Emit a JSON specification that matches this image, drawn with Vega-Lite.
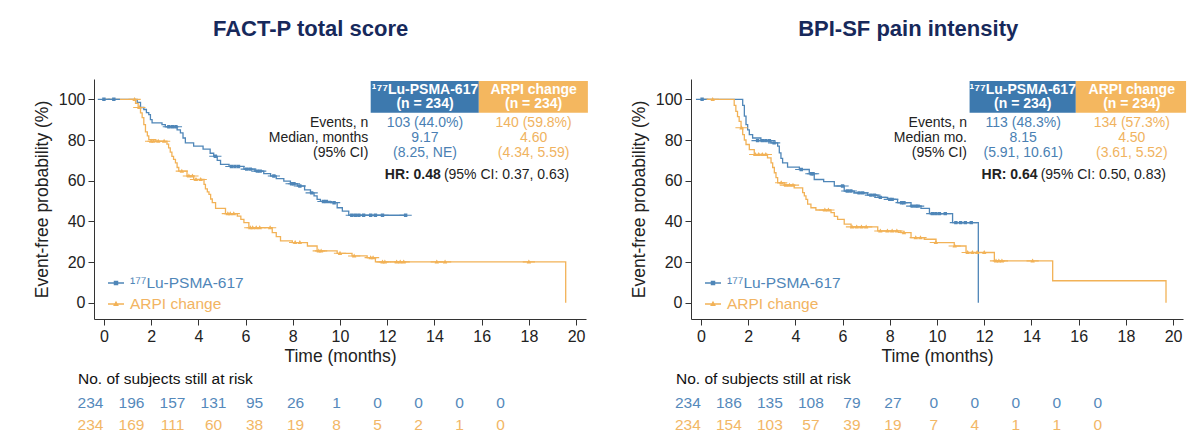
{
"$schema": "https://vega.github.io/schema/vega-lite/v6.json",
"background": "white",
"padding": {"left": 33, "top": 18, "right": 0, "bottom": 0},
"config": {
  "font": "Liberation Sans",
  "view": {"stroke": null},
  "axis": {"grid": false, "domainColor": "#333", "tickColor": "#333", "labelColor": "#222", "titleColor": "#222", "labelFontSize": 16, "titleFontSize": 17.5, "titleFontWeight": "normal", "tickSize": 6}
},
"datasets": {
"km": [
{"panel":"fact","group":"lu","t":0,"s":100},{"panel":"fact","group":"lu","t":1.41,"s":98.5},{"panel":"fact","group":"lu","t":1.55,"s":96},{"panel":"fact","group":"lu","t":1.69,"s":95},{"panel":"fact","group":"lu","t":1.8,"s":93.5},{"panel":"fact","group":"lu","t":1.9,"s":92.5},{"panel":"fact","group":"lu","t":1.97,"s":90},{"panel":"fact","group":"lu","t":2.04,"s":88.4},{"panel":"fact","group":"lu","t":2.46,"s":87.6},{"panel":"fact","group":"lu","t":2.6,"s":86.5},{"panel":"fact","group":"lu","t":3.1,"s":85},{"panel":"fact","group":"lu","t":3.24,"s":83.5},{"panel":"fact","group":"lu","t":3.35,"s":81},{"panel":"fact","group":"lu","t":3.45,"s":78.6},{"panel":"fact","group":"lu","t":3.8,"s":77},{"panel":"fact","group":"lu","t":4.2,"s":75.5},{"panel":"fact","group":"lu","t":4.5,"s":73.5},{"panel":"fact","group":"lu","t":4.65,"s":72},{"panel":"fact","group":"lu","t":4.8,"s":70},{"panel":"fact","group":"lu","t":4.94,"s":68},{"panel":"fact","group":"lu","t":5.3,"s":67},{"panel":"fact","group":"lu","t":5.93,"s":65.7},{"panel":"fact","group":"lu","t":6.4,"s":64.7},{"panel":"fact","group":"lu","t":6.77,"s":63.5},{"panel":"fact","group":"lu","t":7.06,"s":62.3},{"panel":"fact","group":"lu","t":7.3,"s":61},{"panel":"fact","group":"lu","t":7.62,"s":59.8},{"panel":"fact","group":"lu","t":7.9,"s":58.5},{"panel":"fact","group":"lu","t":8.19,"s":57.4},{"panel":"fact","group":"lu","t":8.5,"s":55.5},{"panel":"fact","group":"lu","t":8.75,"s":54},{"panel":"fact","group":"lu","t":8.9,"s":52.5},{"panel":"fact","group":"lu","t":9.03,"s":50.8},{"panel":"fact","group":"lu","t":9.17,"s":49.8},{"panel":"fact","group":"lu","t":9.6,"s":49.2},{"panel":"fact","group":"lu","t":9.88,"s":46.7},{"panel":"fact","group":"lu","t":10.1,"s":45},{"panel":"fact","group":"lu","t":10.37,"s":43},{"panel":"fact","group":"lu","t":12.78,"s":43},
{"panel":"fact","group":"arpi","t":0,"s":100},{"panel":"fact","group":"arpi","t":1.34,"s":98},{"panel":"fact","group":"arpi","t":1.45,"s":96},{"panel":"fact","group":"arpi","t":1.55,"s":93.3},{"panel":"fact","group":"arpi","t":1.62,"s":91},{"panel":"fact","group":"arpi","t":1.69,"s":87.6},{"panel":"fact","group":"arpi","t":1.76,"s":84},{"panel":"fact","group":"arpi","t":1.84,"s":82},{"panel":"fact","group":"arpi","t":1.9,"s":80.2},{"panel":"fact","group":"arpi","t":2.2,"s":79.4},{"panel":"fact","group":"arpi","t":2.67,"s":78},{"panel":"fact","group":"arpi","t":2.74,"s":76.1},{"panel":"fact","group":"arpi","t":2.81,"s":74},{"panel":"fact","group":"arpi","t":2.88,"s":72},{"panel":"fact","group":"arpi","t":2.95,"s":70.5},{"panel":"fact","group":"arpi","t":3.03,"s":68.8},{"panel":"fact","group":"arpi","t":3.1,"s":66.5},{"panel":"fact","group":"arpi","t":3.17,"s":64.7},{"panel":"fact","group":"arpi","t":3.52,"s":62.3},{"panel":"fact","group":"arpi","t":3.8,"s":60.6},{"panel":"fact","group":"arpi","t":4.24,"s":58.2},{"panel":"fact","group":"arpi","t":4.3,"s":56},{"panel":"fact","group":"arpi","t":4.38,"s":54.5},{"panel":"fact","group":"arpi","t":4.45,"s":53.3},{"panel":"fact","group":"arpi","t":4.52,"s":51},{"panel":"fact","group":"arpi","t":4.59,"s":49.2},{"panel":"fact","group":"arpi","t":4.73,"s":46.4},{"panel":"fact","group":"arpi","t":5.15,"s":43.8},{"panel":"fact","group":"arpi","t":5.65,"s":42.6},{"panel":"fact","group":"arpi","t":5.8,"s":41},{"panel":"fact","group":"arpi","t":5.93,"s":39.4},{"panel":"fact","group":"arpi","t":6.14,"s":36.9},{"panel":"fact","group":"arpi","t":7.13,"s":34.5},{"panel":"fact","group":"arpi","t":7.3,"s":32.5},{"panel":"fact","group":"arpi","t":7.48,"s":30.4},{"panel":"fact","group":"arpi","t":7.98,"s":29.6},{"panel":"fact","group":"arpi","t":8.62,"s":27.9},{"panel":"fact","group":"arpi","t":9.03,"s":25.5},{"panel":"fact","group":"arpi","t":9.88,"s":24.3},{"panel":"fact","group":"arpi","t":10.51,"s":23},{"panel":"fact","group":"arpi","t":11.15,"s":22.2},{"panel":"fact","group":"arpi","t":11.5,"s":20.1},{"panel":"fact","group":"arpi","t":19.56,"s":0},
{"panel":"bpi","group":"lu","t":0,"s":100},{"panel":"bpi","group":"lu","t":1.77,"s":97},{"panel":"bpi","group":"lu","t":1.84,"s":91.7},{"panel":"bpi","group":"lu","t":1.91,"s":87.6},{"panel":"bpi","group":"lu","t":1.98,"s":85},{"panel":"bpi","group":"lu","t":2.05,"s":82.7},{"panel":"bpi","group":"lu","t":2.19,"s":81},{"panel":"bpi","group":"lu","t":2.54,"s":79.7},{"panel":"bpi","group":"lu","t":2.97,"s":78.6},{"panel":"bpi","group":"lu","t":3.25,"s":77},{"panel":"bpi","group":"lu","t":3.32,"s":73.7},{"panel":"bpi","group":"lu","t":3.39,"s":71},{"panel":"bpi","group":"lu","t":3.46,"s":68.8},{"panel":"bpi","group":"lu","t":3.67,"s":66.7},{"panel":"bpi","group":"lu","t":4.17,"s":65.5},{"panel":"bpi","group":"lu","t":4.59,"s":63.4},{"panel":"bpi","group":"lu","t":4.8,"s":60.6},{"panel":"bpi","group":"lu","t":5.2,"s":59.5},{"panel":"bpi","group":"lu","t":5.65,"s":57.4},{"panel":"bpi","group":"lu","t":6.07,"s":54.9},{"panel":"bpi","group":"lu","t":6.5,"s":54},{"panel":"bpi","group":"lu","t":7.06,"s":52.9},{"panel":"bpi","group":"lu","t":7.5,"s":51.8},{"panel":"bpi","group":"lu","t":7.91,"s":50.8},{"panel":"bpi","group":"lu","t":8.33,"s":49.2},{"panel":"bpi","group":"lu","t":8.9,"s":47.5},{"panel":"bpi","group":"lu","t":9.32,"s":46.4},{"panel":"bpi","group":"lu","t":9.68,"s":43.8},{"panel":"bpi","group":"lu","t":10.66,"s":39.4},{"panel":"bpi","group":"lu","t":11.75,"s":0},
{"panel":"bpi","group":"arpi","t":0,"s":100},{"panel":"bpi","group":"arpi","t":1.41,"s":97},{"panel":"bpi","group":"arpi","t":1.48,"s":94.1},{"panel":"bpi","group":"arpi","t":1.55,"s":91.5},{"panel":"bpi","group":"arpi","t":1.62,"s":89.2},{"panel":"bpi","group":"arpi","t":1.7,"s":86},{"panel":"bpi","group":"arpi","t":1.77,"s":82.7},{"panel":"bpi","group":"arpi","t":1.84,"s":80},{"panel":"bpi","group":"arpi","t":1.91,"s":77.8},{"panel":"bpi","group":"arpi","t":2.05,"s":75.3},{"panel":"bpi","group":"arpi","t":2.26,"s":72.9},{"panel":"bpi","group":"arpi","t":2.82,"s":71.2},{"panel":"bpi","group":"arpi","t":2.97,"s":68.8},{"panel":"bpi","group":"arpi","t":3.04,"s":66.5},{"panel":"bpi","group":"arpi","t":3.11,"s":63.9},{"panel":"bpi","group":"arpi","t":3.18,"s":61.5},{"panel":"bpi","group":"arpi","t":3.25,"s":59},{"panel":"bpi","group":"arpi","t":3.53,"s":57.8},{"panel":"bpi","group":"arpi","t":3.95,"s":56.5},{"panel":"bpi","group":"arpi","t":4.31,"s":54.1},{"panel":"bpi","group":"arpi","t":4.38,"s":52.5},{"panel":"bpi","group":"arpi","t":4.45,"s":50.8},{"panel":"bpi","group":"arpi","t":4.52,"s":48.5},{"panel":"bpi","group":"arpi","t":4.66,"s":46.7},{"panel":"bpi","group":"arpi","t":4.87,"s":45.6},{"panel":"bpi","group":"arpi","t":5.51,"s":44.3},{"panel":"bpi","group":"arpi","t":5.65,"s":42.5},{"panel":"bpi","group":"arpi","t":5.79,"s":41},{"panel":"bpi","group":"arpi","t":6.07,"s":38.6},{"panel":"bpi","group":"arpi","t":6.36,"s":37.3},{"panel":"bpi","group":"arpi","t":7.49,"s":35.3},{"panel":"bpi","group":"arpi","t":8.47,"s":34.5},{"panel":"bpi","group":"arpi","t":8.9,"s":32},{"panel":"bpi","group":"arpi","t":9.46,"s":31.2},{"panel":"bpi","group":"arpi","t":9.96,"s":29.6},{"panel":"bpi","group":"arpi","t":10.73,"s":27.9},{"panel":"bpi","group":"arpi","t":11.23,"s":24.7},{"panel":"bpi","group":"arpi","t":12.43,"s":20.6},{"panel":"bpi","group":"arpi","t":14.9,"s":10.8},{"panel":"bpi","group":"arpi","t":19.7,"s":0}
],
"cens": [
{"panel":"fact","group":"lu","t":0,"s":100},{"panel":"fact","group":"lu","t":0.42,"s":100},{"panel":"fact","group":"lu","t":2.75,"s":86.5},{"panel":"fact","group":"lu","t":2.9,"s":86.5},{"panel":"fact","group":"lu","t":3.05,"s":86.5},{"panel":"fact","group":"lu","t":4.72,"s":72},{"panel":"fact","group":"lu","t":5.4,"s":67},{"panel":"fact","group":"lu","t":5.55,"s":67},{"panel":"fact","group":"lu","t":5.7,"s":67},{"panel":"fact","group":"lu","t":6.05,"s":65.7},{"panel":"fact","group":"lu","t":6.2,"s":65.7},{"panel":"fact","group":"lu","t":6.5,"s":64.7},{"panel":"fact","group":"lu","t":6.62,"s":64.7},{"panel":"fact","group":"lu","t":7.2,"s":62.3},{"panel":"fact","group":"lu","t":7.95,"s":58.5},{"panel":"fact","group":"lu","t":8.05,"s":58.5},{"panel":"fact","group":"lu","t":8.3,"s":57.4},{"panel":"fact","group":"lu","t":8.8,"s":54},{"panel":"fact","group":"lu","t":9.3,"s":49.8},{"panel":"fact","group":"lu","t":9.42,"s":49.8},{"panel":"fact","group":"lu","t":9.75,"s":49.2},{"panel":"fact","group":"lu","t":10.5,"s":43},{"panel":"fact","group":"lu","t":10.65,"s":43},{"panel":"fact","group":"lu","t":10.8,"s":43},{"panel":"fact","group":"lu","t":11.0,"s":43},{"panel":"fact","group":"lu","t":11.3,"s":43},{"panel":"fact","group":"lu","t":11.5,"s":43},{"panel":"fact","group":"lu","t":11.8,"s":43},{"panel":"fact","group":"lu","t":12.78,"s":43},
{"panel":"fact","group":"arpi","t":1.3,"s":100},{"panel":"fact","group":"arpi","t":1.5,"s":96},{"panel":"fact","group":"arpi","t":2.0,"s":79.4},{"panel":"fact","group":"arpi","t":2.1,"s":79.4},{"panel":"fact","group":"arpi","t":2.3,"s":79.4},{"panel":"fact","group":"arpi","t":2.55,"s":79.4},{"panel":"fact","group":"arpi","t":3.3,"s":64.7},{"panel":"fact","group":"arpi","t":3.6,"s":62.3},{"panel":"fact","group":"arpi","t":3.75,"s":62.3},{"panel":"fact","group":"arpi","t":3.9,"s":60.6},{"panel":"fact","group":"arpi","t":4.1,"s":60.6},{"panel":"fact","group":"arpi","t":5.25,"s":43.8},{"panel":"fact","group":"arpi","t":5.35,"s":43.8},{"panel":"fact","group":"arpi","t":5.5,"s":43.8},{"panel":"fact","group":"arpi","t":6.2,"s":36.9},{"panel":"fact","group":"arpi","t":6.3,"s":36.9},{"panel":"fact","group":"arpi","t":6.45,"s":36.9},{"panel":"fact","group":"arpi","t":6.6,"s":36.9},{"panel":"fact","group":"arpi","t":7.04,"s":36.9},{"panel":"fact","group":"arpi","t":8.1,"s":29.6},{"panel":"fact","group":"arpi","t":8.3,"s":29.6},{"panel":"fact","group":"arpi","t":9.1,"s":25.5},{"panel":"fact","group":"arpi","t":9.2,"s":25.5},{"panel":"fact","group":"arpi","t":10.0,"s":24.3},{"panel":"fact","group":"arpi","t":10.6,"s":23},{"panel":"fact","group":"arpi","t":11.3,"s":22.2},{"panel":"fact","group":"arpi","t":11.4,"s":22.2},{"panel":"fact","group":"arpi","t":11.8,"s":20.1},{"panel":"fact","group":"arpi","t":11.9,"s":20.1},{"panel":"fact","group":"arpi","t":12.4,"s":20.1},{"panel":"fact","group":"arpi","t":12.55,"s":20.1},{"panel":"fact","group":"arpi","t":12.7,"s":20.1},{"panel":"fact","group":"arpi","t":14.1,"s":20.1},{"panel":"fact","group":"arpi","t":14.45,"s":20.1},{"panel":"fact","group":"arpi","t":18.0,"s":20.1},
{"panel":"bpi","group":"lu","t":0.05,"s":100},{"panel":"bpi","group":"lu","t":2.4,"s":79.7},{"panel":"bpi","group":"lu","t":2.6,"s":79.7},{"panel":"bpi","group":"lu","t":2.75,"s":79.7},{"panel":"bpi","group":"lu","t":2.9,"s":79.7},{"panel":"bpi","group":"lu","t":3.1,"s":78.6},{"panel":"bpi","group":"lu","t":4.25,"s":65.5},{"panel":"bpi","group":"lu","t":4.68,"s":63.4},{"panel":"bpi","group":"lu","t":4.75,"s":63.4},{"panel":"bpi","group":"lu","t":6.0,"s":57.4},{"panel":"bpi","group":"lu","t":6.2,"s":54.9},{"panel":"bpi","group":"lu","t":6.35,"s":54.9},{"panel":"bpi","group":"lu","t":6.7,"s":54},{"panel":"bpi","group":"lu","t":6.85,"s":54},{"panel":"bpi","group":"lu","t":7.2,"s":52.9},{"panel":"bpi","group":"lu","t":7.35,"s":52.9},{"panel":"bpi","group":"lu","t":7.6,"s":51.8},{"panel":"bpi","group":"lu","t":8.0,"s":50.8},{"panel":"bpi","group":"lu","t":8.1,"s":50.8},{"panel":"bpi","group":"lu","t":8.5,"s":49.2},{"panel":"bpi","group":"lu","t":8.6,"s":49.2},{"panel":"bpi","group":"lu","t":8.95,"s":47.5},{"panel":"bpi","group":"lu","t":9.1,"s":47.5},{"panel":"bpi","group":"lu","t":9.2,"s":47.5},{"panel":"bpi","group":"lu","t":9.8,"s":43.8},{"panel":"bpi","group":"lu","t":9.95,"s":43.8},{"panel":"bpi","group":"lu","t":10.1,"s":43.8},{"panel":"bpi","group":"lu","t":10.35,"s":43.8},{"panel":"bpi","group":"lu","t":10.8,"s":39.4},{"panel":"bpi","group":"lu","t":11.0,"s":39.4},{"panel":"bpi","group":"lu","t":11.2,"s":39.4},{"panel":"bpi","group":"lu","t":11.45,"s":39.4},
{"panel":"bpi","group":"arpi","t":0.5,"s":100},{"panel":"bpi","group":"arpi","t":1.72,"s":86},{"panel":"bpi","group":"arpi","t":2.3,"s":72.9},{"panel":"bpi","group":"arpi","t":2.45,"s":72.9},{"panel":"bpi","group":"arpi","t":2.6,"s":72.9},{"panel":"bpi","group":"arpi","t":2.75,"s":72.9},{"panel":"bpi","group":"arpi","t":3.4,"s":59},{"panel":"bpi","group":"arpi","t":3.6,"s":57.8},{"panel":"bpi","group":"arpi","t":3.75,"s":57.8},{"panel":"bpi","group":"arpi","t":3.9,"s":57.8},{"panel":"bpi","group":"arpi","t":5.25,"s":45.6},{"panel":"bpi","group":"arpi","t":5.4,"s":45.6},{"panel":"bpi","group":"arpi","t":6.4,"s":37.3},{"panel":"bpi","group":"arpi","t":6.6,"s":37.3},{"panel":"bpi","group":"arpi","t":6.8,"s":37.3},{"panel":"bpi","group":"arpi","t":7.0,"s":37.3},{"panel":"bpi","group":"arpi","t":7.6,"s":35.3},{"panel":"bpi","group":"arpi","t":7.9,"s":35.3},{"panel":"bpi","group":"arpi","t":8.1,"s":35.3},{"panel":"bpi","group":"arpi","t":8.3,"s":35.3},{"panel":"bpi","group":"arpi","t":8.6,"s":34.5},{"panel":"bpi","group":"arpi","t":9.1,"s":32},{"panel":"bpi","group":"arpi","t":9.3,"s":32},{"panel":"bpi","group":"arpi","t":9.95,"s":29.6},{"panel":"bpi","group":"arpi","t":10.75,"s":27.9},{"panel":"bpi","group":"arpi","t":11.3,"s":24.7},{"panel":"bpi","group":"arpi","t":11.5,"s":24.7},{"panel":"bpi","group":"arpi","t":11.7,"s":24.7},{"panel":"bpi","group":"arpi","t":12.0,"s":24.7},{"panel":"bpi","group":"arpi","t":12.5,"s":20.6},{"panel":"bpi","group":"arpi","t":12.62,"s":20.6},{"panel":"bpi","group":"arpi","t":12.75,"s":20.6},{"panel":"bpi","group":"arpi","t":14.05,"s":20.6}
],
"risk": [
{"panel":"fact","group":"lu","t":0,"n":234},{"panel":"fact","group":"lu","t":2,"n":196},{"panel":"fact","group":"lu","t":4,"n":157},{"panel":"fact","group":"lu","t":6,"n":131},{"panel":"fact","group":"lu","t":8,"n":95},{"panel":"fact","group":"lu","t":10,"n":26},{"panel":"fact","group":"lu","t":12,"n":1},{"panel":"fact","group":"lu","t":14,"n":0},{"panel":"fact","group":"lu","t":16,"n":0},{"panel":"fact","group":"lu","t":18,"n":0},{"panel":"fact","group":"lu","t":20,"n":0},
{"panel":"fact","group":"arpi","t":0,"n":234},{"panel":"fact","group":"arpi","t":2,"n":169},{"panel":"fact","group":"arpi","t":4,"n":111},{"panel":"fact","group":"arpi","t":6,"n":60},{"panel":"fact","group":"arpi","t":8,"n":38},{"panel":"fact","group":"arpi","t":10,"n":19},{"panel":"fact","group":"arpi","t":12,"n":8},{"panel":"fact","group":"arpi","t":14,"n":5},{"panel":"fact","group":"arpi","t":16,"n":2},{"panel":"fact","group":"arpi","t":18,"n":1},{"panel":"fact","group":"arpi","t":20,"n":0},
{"panel":"bpi","group":"lu","t":0,"n":234},{"panel":"bpi","group":"lu","t":2,"n":186},{"panel":"bpi","group":"lu","t":4,"n":135},{"panel":"bpi","group":"lu","t":6,"n":108},{"panel":"bpi","group":"lu","t":8,"n":79},{"panel":"bpi","group":"lu","t":10,"n":27},{"panel":"bpi","group":"lu","t":12,"n":0},{"panel":"bpi","group":"lu","t":14,"n":0},{"panel":"bpi","group":"lu","t":16,"n":0},{"panel":"bpi","group":"lu","t":18,"n":0},{"panel":"bpi","group":"lu","t":20,"n":0},
{"panel":"bpi","group":"arpi","t":0,"n":234},{"panel":"bpi","group":"arpi","t":2,"n":154},{"panel":"bpi","group":"arpi","t":4,"n":103},{"panel":"bpi","group":"arpi","t":6,"n":57},{"panel":"bpi","group":"arpi","t":8,"n":39},{"panel":"bpi","group":"arpi","t":10,"n":19},{"panel":"bpi","group":"arpi","t":12,"n":7},{"panel":"bpi","group":"arpi","t":14,"n":4},{"panel":"bpi","group":"arpi","t":16,"n":1},{"panel":"bpi","group":"arpi","t":18,"n":1},{"panel":"bpi","group":"arpi","t":20,"n":0}
],
"stats": [
{"panel":"fact","group":"lu","head":"\u00b9\u2077\u2077Lu-PSMA-617\n(n = 234)","vals":"103 (44.0%)\n9.17\n(8.25, NE)"},
{"panel":"fact","group":"arpi","head":"ARPI change\n(n = 234)","vals":"140 (59.8%)\n4.60\n(4.34, 5.59)"},
{"panel":"bpi","group":"lu","head":"\u00b9\u2077\u2077Lu-PSMA-617\n(n = 234)","vals":"113 (48.3%)\n8.15\n(5.91, 10.61)"},
{"panel":"bpi","group":"arpi","head":"ARPI change\n(n = 234)","vals":"134 (57.3%)\n4.50\n(3.61, 5.52)"}
],
"notes": [
{"panel":"fact","labels":"Events, n\nMedian, months\n(95% CI)","hrb":"HR: 0.48","hrr":"(95% CI: 0.37, 0.63)"},
{"panel":"bpi","labels":"Events, n\nMedian mo.\n(95% CI)","hrb":"HR: 0.64","hrr":"(95% CI: 0.50, 0.83)"}
]
},
"resolve": {"scale": {"x": "independent", "y": "independent", "color": "independent", "shape": "independent"}, "legend": {"color": "independent", "shape": "independent"}},
"spacing": 42,
"hconcat": [
{
 "spacing": 6,
 "resolve": {"scale": {"x": "independent", "y": "independent", "color": "independent", "shape": "independent"}, "legend": {"color": "independent", "shape": "independent"}},
 "vconcat": [
 {
  "width": 492, "height": 240,
  "title": {"text": "FACT-P total score", "fontSize": 22, "fontWeight": "bold", "color": "#17295b", "anchor": "middle", "frame": "bounds", "offset": 16, "baseline": "bottom"},
  "layer": [
   {"data": {"name": "km"}, "transform": [{"filter": "datum.panel == 'fact'"}],
    "mark": {"type": "line", "interpolate": "step-after", "strokeWidth": 1.3},
    "encoding": {
     "x": {"field": "t", "type": "quantitative", "scale": {"domain": [-0.42, 20.42], "nice": false, "zero": false}, "axis": {"values": [0,2,4,6,8,10,12,14,16,18,20], "title": "Time (months)", "labelPadding": 3.5, "titlePadding": 3}},
     "y": {"field": "s", "type": "quantitative", "scale": {"domain": [-8, 110], "nice": false, "zero": false}, "axis": {"values": [0,20,40,60,80,100], "title": "Event-free probability (%)", "labelPadding": 3, "titlePadding": 7}},
     "color": {"field": "group", "type": "nominal", "scale": {"domain": ["lu","arpi"], "range": ["#4f86b8","#f2b257"]},
       "legend": {"title": null, "orient": "none", "legendX": 14, "legendY": 196, "symbolSize": 256, "symbolStrokeWidth": 0, "labelFontSize": 15.5, "labelOffset": 6, "rowPadding": 4, "padding": 0, "labelExpr": "datum.value == 'lu' ? '\u00b9\u2077\u2077Lu-PSMA-617' : 'ARPI change'", "encode": {"labels": {"update": {"fill": {"signal": "datum.value == 'arpi' ? '#f2b462' : '#4f86b8'"}}}}}}
    }},
   {"data": {"name": "cens"}, "transform": [{"filter": "datum.panel == 'fact'"}],
    "mark": {"type": "point", "filled": true, "opacity": 1, "size": 150, "strokeWidth": 0},
    "encoding": {
     "x": {"field": "t", "type": "quantitative"},
     "y": {"field": "s", "type": "quantitative"},
     "color": {"field": "group", "type": "nominal",
       "legend": {"title": null, "orient": "none", "legendX": 14, "legendY": 196, "symbolSize": 256, "symbolStrokeWidth": 0, "labelFontSize": 15.5, "labelOffset": 6, "rowPadding": 4, "padding": 0, "labelExpr": "datum.value == 'lu' ? '\u00b9\u2077\u2077Lu-PSMA-617' : 'ARPI change'", "encode": {"labels": {"update": {"fill": {"signal": "datum.value == 'arpi' ? '#f2b462' : '#4f86b8'"}}}}}},
     "shape": {"field": "group", "type": "nominal", "scale": {"domain": ["lu","arpi"], "range": ["M-1,-0.09H1V0.09H-1Z M-0.28,-0.28H0.28V0.28H-0.28Z", "M-1,-0.09H1V0.09H-1Z M0,-0.4L0.36,0.26H-0.36Z"]},
       "legend": {"title": null, "orient": "none", "legendX": 14, "legendY": 196, "symbolSize": 256, "symbolStrokeWidth": 0, "labelFontSize": 15.5, "labelOffset": 6, "rowPadding": 4, "padding": 0, "labelExpr": "datum.value == 'lu' ? '\u00b9\u2077\u2077Lu-PSMA-617' : 'ARPI change'", "encode": {"labels": {"update": {"fill": {"signal": "datum.value == 'arpi' ? '#f2b462' : '#4f86b8'"}}}}}}
    }},
   {"data": {"name": "stats"}, "transform": [{"filter": "datum.panel == 'fact' && datum.group == 'lu'"}],
    "mark": {"type": "rect", "color": "#3d79ae"},
    "encoding": {"x": {"datum": 11.3}, "x2": {"datum": 15.88}, "y": {"datum": 109}, "y2": {"datum": 93.4}}},
   {"data": {"name": "stats"}, "transform": [{"filter": "datum.panel == 'fact' && datum.group == 'arpi'"}],
    "mark": {"type": "rect", "color": "#f4b75f"},
    "encoding": {"x": {"datum": 15.88}, "x2": {"datum": 20.5}, "y": {"datum": 109}, "y2": {"datum": 93.4}}},
   {"data": {"name": "stats"}, "transform": [{"filter": "datum.panel == 'fact' && datum.group == 'lu'"}],
    "mark": {"type": "text", "color": "white", "fontWeight": "bold", "fontSize": 14, "lineBreak": "\n", "lineHeight": 14, "baseline": "middle"},
    "encoding": {"x": {"datum": 13.6}, "y": {"datum": 104.4}, "text": {"field": "head"}}},
   {"data": {"name": "stats"}, "transform": [{"filter": "datum.panel == 'fact' && datum.group == 'arpi'"}],
    "mark": {"type": "text", "color": "white", "fontWeight": "bold", "fontSize": 14, "lineBreak": "\n", "lineHeight": 14, "baseline": "middle"},
    "encoding": {"x": {"datum": 18.2}, "y": {"datum": 104.4}, "text": {"field": "head"}}},
   {"data": {"name": "stats"}, "transform": [{"filter": "datum.panel == 'fact' && datum.group == 'lu'"}],
    "mark": {"type": "text", "color": "#4a7fb3", "fontSize": 14, "lineBreak": "\n", "lineHeight": 15, "baseline": "middle"},
    "encoding": {"x": {"datum": 13.6}, "y": {"datum": 88.5}, "text": {"field": "vals"}}},
   {"data": {"name": "stats"}, "transform": [{"filter": "datum.panel == 'fact' && datum.group == 'arpi'"}],
    "mark": {"type": "text", "color": "#f0b35f", "fontSize": 14, "lineBreak": "\n", "lineHeight": 15, "baseline": "middle"},
    "encoding": {"x": {"datum": 18.2}, "y": {"datum": 88.5}, "text": {"field": "vals"}}},
   {"data": {"name": "notes"}, "transform": [{"filter": "datum.panel == 'fact'"}],
    "mark": {"type": "text", "color": "#222", "fontSize": 14, "lineBreak": "\n", "lineHeight": 15, "baseline": "middle", "align": "right"},
    "encoding": {"x": {"datum": 11.2}, "y": {"datum": 88.5}, "text": {"field": "labels"}}},
   {"data": {"name": "notes"}, "transform": [{"filter": "datum.panel == 'fact'"}],
    "mark": {"type": "text", "color": "#222", "fontSize": 14, "fontWeight": "bold", "baseline": "middle", "align": "right"},
    "encoding": {"x": {"datum": 14.27}, "y": {"datum": 62.7}, "text": {"field": "hrb"}}},
   {"data": {"name": "notes"}, "transform": [{"filter": "datum.panel == 'fact'"}],
    "mark": {"type": "text", "color": "#222", "fontSize": 14, "baseline": "middle", "align": "left"},
    "encoding": {"x": {"datum": 14.4}, "y": {"datum": 62.7}, "text": {"field": "hrr"}}}
  ]
 },
 {
  "width": 492, "height": 44.6,
  "title": {"text": "No. of subjects still at risk", "anchor": "start", "frame": "group", "dx": -16, "fontSize": 15.5, "fontWeight": "normal", "color": "#111", "offset": -10, "baseline": "bottom"},
  "data": {"name": "risk"}, "transform": [{"filter": "datum.panel == 'fact'"}],
  "mark": {"type": "text", "fontSize": 15.5, "baseline": "middle"},
  "encoding": {
   "x": {"field": "t", "type": "quantitative", "scale": {"domain": [0.17, 24.17], "nice": false, "zero": false}, "axis": null},
   "y": {"field": "group", "type": "nominal", "scale": {"domain": ["lu","arpi"]}, "axis": null},
   "text": {"field": "n", "type": "quantitative"},
   "color": {"field": "group", "type": "nominal", "scale": {"domain": ["lu","arpi"], "range": ["#5589bb","#f2b766"]}, "legend": null}
  }
 }
 ]
},
{
 "spacing": 6,
 "resolve": {"scale": {"x": "independent", "y": "independent", "color": "independent", "shape": "independent"}, "legend": {"color": "independent", "shape": "independent"}},
 "vconcat": [
 {
  "width": 492, "height": 240,
  "title": {"text": "BPI-SF pain intensity", "fontSize": 22, "fontWeight": "bold", "color": "#17295b", "anchor": "middle", "frame": "bounds", "offset": 16, "baseline": "bottom"},
  "layer": [
   {"data": {"name": "km"}, "transform": [{"filter": "datum.panel == 'bpi'"}],
    "mark": {"type": "line", "interpolate": "step-after", "strokeWidth": 1.3},
    "encoding": {
     "x": {"field": "t", "type": "quantitative", "scale": {"domain": [-0.42, 20.42], "nice": false, "zero": false}, "axis": {"values": [0,2,4,6,8,10,12,14,16,18,20], "title": "Time (months)", "labelPadding": 3.5, "titlePadding": 3}},
     "y": {"field": "s", "type": "quantitative", "scale": {"domain": [-8, 110], "nice": false, "zero": false}, "axis": {"values": [0,20,40,60,80,100], "title": "Event-free probability (%)", "labelPadding": 3, "titlePadding": 7}},
     "color": {"field": "group", "type": "nominal", "scale": {"domain": ["lu","arpi"], "range": ["#4f86b8","#f2b257"]},
       "legend": {"title": null, "orient": "none", "legendX": 14, "legendY": 196, "symbolSize": 256, "symbolStrokeWidth": 0, "labelFontSize": 15.5, "labelOffset": 6, "rowPadding": 4, "padding": 0, "labelExpr": "datum.value == 'lu' ? '\u00b9\u2077\u2077Lu-PSMA-617' : 'ARPI change'", "encode": {"labels": {"update": {"fill": {"signal": "datum.value == 'arpi' ? '#f2b462' : '#4f86b8'"}}}}}}
    }},
   {"data": {"name": "cens"}, "transform": [{"filter": "datum.panel == 'bpi'"}],
    "mark": {"type": "point", "filled": true, "opacity": 1, "size": 150, "strokeWidth": 0},
    "encoding": {
     "x": {"field": "t", "type": "quantitative"},
     "y": {"field": "s", "type": "quantitative"},
     "color": {"field": "group", "type": "nominal",
       "legend": {"title": null, "orient": "none", "legendX": 14, "legendY": 196, "symbolSize": 256, "symbolStrokeWidth": 0, "labelFontSize": 15.5, "labelOffset": 6, "rowPadding": 4, "padding": 0, "labelExpr": "datum.value == 'lu' ? '\u00b9\u2077\u2077Lu-PSMA-617' : 'ARPI change'", "encode": {"labels": {"update": {"fill": {"signal": "datum.value == 'arpi' ? '#f2b462' : '#4f86b8'"}}}}}},
     "shape": {"field": "group", "type": "nominal", "scale": {"domain": ["lu","arpi"], "range": ["M-1,-0.09H1V0.09H-1Z M-0.28,-0.28H0.28V0.28H-0.28Z", "M-1,-0.09H1V0.09H-1Z M0,-0.4L0.36,0.26H-0.36Z"]},
       "legend": {"title": null, "orient": "none", "legendX": 14, "legendY": 196, "symbolSize": 256, "symbolStrokeWidth": 0, "labelFontSize": 15.5, "labelOffset": 6, "rowPadding": 4, "padding": 0, "labelExpr": "datum.value == 'lu' ? '\u00b9\u2077\u2077Lu-PSMA-617' : 'ARPI change'", "encode": {"labels": {"update": {"fill": {"signal": "datum.value == 'arpi' ? '#f2b462' : '#4f86b8'"}}}}}}
    }},
   {"data": {"name": "stats"}, "transform": [{"filter": "datum.panel == 'bpi' && datum.group == 'lu'"}],
    "mark": {"type": "rect", "color": "#3d79ae"},
    "encoding": {"x": {"datum": 11.38}, "x2": {"datum": 15.88}, "y": {"datum": 109}, "y2": {"datum": 93.4}}},
   {"data": {"name": "stats"}, "transform": [{"filter": "datum.panel == 'bpi' && datum.group == 'arpi'"}],
    "mark": {"type": "rect", "color": "#f4b75f"},
    "encoding": {"x": {"datum": 15.88}, "x2": {"datum": 20.55}, "y": {"datum": 109}, "y2": {"datum": 93.4}}},
   {"data": {"name": "stats"}, "transform": [{"filter": "datum.panel == 'bpi' && datum.group == 'lu'"}],
    "mark": {"type": "text", "color": "white", "fontWeight": "bold", "fontSize": 14, "lineBreak": "\n", "lineHeight": 14, "baseline": "middle"},
    "encoding": {"x": {"datum": 13.63}, "y": {"datum": 104.4}, "text": {"field": "head"}}},
   {"data": {"name": "stats"}, "transform": [{"filter": "datum.panel == 'bpi' && datum.group == 'arpi'"}],
    "mark": {"type": "text", "color": "white", "fontWeight": "bold", "fontSize": 14, "lineBreak": "\n", "lineHeight": 14, "baseline": "middle"},
    "encoding": {"x": {"datum": 18.25}, "y": {"datum": 104.4}, "text": {"field": "head"}}},
   {"data": {"name": "stats"}, "transform": [{"filter": "datum.panel == 'bpi' && datum.group == 'lu'"}],
    "mark": {"type": "text", "color": "#4a7fb3", "fontSize": 14, "lineBreak": "\n", "lineHeight": 15, "baseline": "middle"},
    "encoding": {"x": {"datum": 13.65}, "y": {"datum": 88.5}, "text": {"field": "vals"}}},
   {"data": {"name": "stats"}, "transform": [{"filter": "datum.panel == 'bpi' && datum.group == 'arpi'"}],
    "mark": {"type": "text", "color": "#f0b35f", "fontSize": 14, "lineBreak": "\n", "lineHeight": 15, "baseline": "middle"},
    "encoding": {"x": {"datum": 18.25}, "y": {"datum": 88.5}, "text": {"field": "vals"}}},
   {"data": {"name": "notes"}, "transform": [{"filter": "datum.panel == 'bpi'"}],
    "mark": {"type": "text", "color": "#222", "fontSize": 14, "lineBreak": "\n", "lineHeight": 15, "baseline": "middle", "align": "right"},
    "encoding": {"x": {"datum": 11.27}, "y": {"datum": 88.5}, "text": {"field": "labels"}}},
   {"data": {"name": "notes"}, "transform": [{"filter": "datum.panel == 'bpi'"}],
    "mark": {"type": "text", "color": "#222", "fontSize": 14, "fontWeight": "bold", "baseline": "middle", "align": "right"},
    "encoding": {"x": {"datum": 14.26}, "y": {"datum": 62.7}, "text": {"field": "hrb"}}},
   {"data": {"name": "notes"}, "transform": [{"filter": "datum.panel == 'bpi'"}],
    "mark": {"type": "text", "color": "#222", "fontSize": 14, "baseline": "middle", "align": "left"},
    "encoding": {"x": {"datum": 14.39}, "y": {"datum": 62.7}, "text": {"field": "hrr"}}}
  ]
 },
 {
  "width": 492, "height": 44.6,
  "title": {"text": "No. of subjects still at risk", "anchor": "start", "frame": "group", "dx": -15, "fontSize": 15.5, "fontWeight": "normal", "color": "#111", "offset": -10, "baseline": "bottom"},
  "data": {"name": "risk"}, "transform": [{"filter": "datum.panel == 'bpi'"}],
  "mark": {"type": "text", "fontSize": 15.5, "baseline": "middle"},
  "encoding": {
   "x": {"field": "t", "type": "quantitative", "scale": {"domain": [0.15, 24.15], "nice": false, "zero": false}, "axis": null},
   "y": {"field": "group", "type": "nominal", "scale": {"domain": ["lu","arpi"]}, "axis": null},
   "text": {"field": "n", "type": "quantitative"},
   "color": {"field": "group", "type": "nominal", "scale": {"domain": ["lu","arpi"], "range": ["#5589bb","#f2b766"]}, "legend": null}
  }
 }
 ]
}
]
}
